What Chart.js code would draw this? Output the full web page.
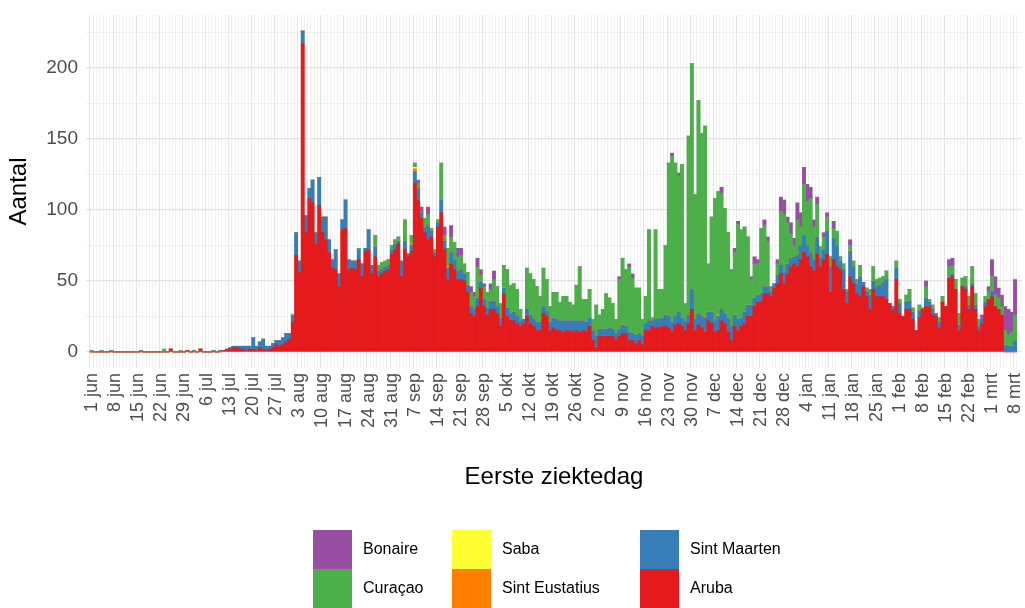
<!DOCTYPE html>
<html>
<head>
<meta charset="utf-8">
<script src="https://cdn.jsdelivr.net/npm/chart.js@4.4.1/dist/chart.umd.min.js"></script>
<style>
  html, body { margin: 0; padding: 0; background: #fff; }
</style>
</head>
<body>
<canvas id="grafiek" width="1025" height="608"></canvas>
<script>
// weekly tick labels, one per 7 days starting 1 jun
const weekLabels = [
  '1 jun', '8 jun', '15 jun', '22 jun', '29 jun', '6 jul', '13 jul', '20 jul', '27 jul',
  '3 aug', '10 aug', '17 aug', '24 aug', '31 aug', '7 sep', '14 sep', '21 sep', '28 sep',
  '5 okt', '12 okt', '19 okt', '26 okt', '2 nov', '9 nov', '16 nov', '23 nov', '30 nov',
  '7 dec', '14 dec', '21 dec', '28 dec', '4 jan', '11 jan', '18 jan', '25 jan',
  '1 feb', '8 feb', '15 feb', '22 feb', '1 mrt', '8 mrt'
];

// cases per day (1 jun .. 8 mrt), one row per week
const aruba = [
  0,0,0,0,0,0,0,  0,0,0,0,0,0,0,  0,0,0,0,0,0,0,  0,0,0,2,0,0,0,
  0,1,0,0,0,2,0,  0,0,0,0,0,1,1,  2,3,3,2,2,1,2,  2,1,3,2,1,2,3,
  5,4,5,7,9,21,68,  56,217,84,108,105,76,103,  84,79,70,59,58,46,86,  87,58,59,58,65,53,71,
  72,55,67,53,55,57,58,  69,72,76,53,72,67,71,  119,107,94,84,79,81,67,  88,98,72,51,62,58,51,
  51,50,42,27,25,32,45,  32,26,30,30,27,18,41,  25,22,22,20,18,20,25,  20,18,15,15,27,25,15,
  17,15,15,14,15,15,14,  15,14,15,14,18,8,3,  11,11,11,11,11,8,11,  13,13,8,8,6,8,5,
  15,15,18,17,17,18,18,  17,14,19,20,18,15,20,  30,15,19,17,14,22,20,  14,15,22,20,14,8,18,
  15,18,20,25,25,32,35,  35,41,41,39,45,48,55,  48,55,60,62,60,65,70,  67,60,57,69,60,65,69,
  42,65,60,58,44,34,53,  48,41,39,46,39,30,44,  39,39,39,37,34,29,51,  27,25,30,30,23,15,24,
  30,32,32,26,25,17,35,  32,52,53,44,15,46,44,  30,46,30,15,20,32,37,  39,32,30,26,0,0,0,
  0
];
const sintMaarten = [
  0,0,0,0,0,0,1,  0,0,0,0,0,0,0,  0,1,0,0,0,0,0,  0,0,0,0,0,0,0,
  0,0,0,1,0,0,0,  0,0,1,0,1,0,1,  1,1,1,2,2,3,2,  8,3,4,7,3,2,3,
  3,4,5,6,4,5,16,  8,9,12,7,16,8,20,  11,16,9,6,14,9,7,  20,7,5,6,7,9,2,
  14,6,7,4,3,3,3,  3,4,2,11,6,2,4,  8,8,4,4,10,4,3,  3,9,6,8,8,7,6,
  7,5,5,5,5,6,4,  5,5,6,6,5,6,4,  6,5,6,5,4,3,5,  6,5,6,6,5,4,6,
  7,8,7,8,7,7,8,  7,8,7,7,6,7,8,  5,5,5,6,5,5,5,  6,5,6,5,6,5,6,
  5,7,4,6,6,6,8,  8,7,6,8,6,7,6,  14,8,8,8,10,6,8,  8,10,8,7,10,10,8,
  8,6,8,8,8,6,5,  6,5,5,4,3,6,6,  8,7,6,5,8,10,12,  8,10,8,12,6,7,16,
  18,15,15,6,14,8,18,  12,7,14,3,4,10,6,  7,8,10,14,0,3,8,  7,0,5,6,5,0,5,
  0,6,3,4,2,4,0,  0,0,2,0,4,0,2,  3,2,3,3,3,3,0,  4,0,0,0,5,4,4,
  8
];
const curacao = [
  1,0,0,1,0,0,0,  0,0,0,0,0,0,0,  0,0,0,0,0,0,0,  0,2,0,0,0,0,1,
  0,0,0,0,0,0,0,  0,0,0,0,0,0,0,  0,0,0,0,0,0,0,  0,0,0,0,0,0,0,
  0,0,0,0,0,0,0,  0,0,0,0,0,0,0,  0,0,0,0,0,0,0,  0,0,0,0,1,0,0,
  0,0,8,4,5,4,4,  3,3,3,0,15,0,6,  3,4,0,6,8,2,2,  2,26,4,13,11,12,10,
  10,7,9,10,9,22,5,  9,11,8,15,14,10,16,  27,20,20,19,8,0,29,  29,28,25,18,27,22,11,
  18,19,13,17,17,13,11,  25,38,15,16,20,8,22,  10,14,25,21,18,10,35,  47,40,46,39,33,32,12,
  19,64,2,63,21,20,49,  108,117,108,96,108,12,126,  159,88,150,129,134,34,67,  86,87,82,74,60,40,44,
  67,62,60,48,18,24,22,  46,43,32,3,0,8,38,  41,29,17,8,25,13,36,  31,38,23,23,8,9,10,
  7,7,10,3,4,2,4,  4,3,8,0,2,4,10,  5,5,4,6,0,0,5,  3,0,5,8,3,0,4,
  1,8,2,3,0,3,4,  0,8,6,7,8,6,7,  6,12,8,5,0,4,6,  10,8,8,6,10,8,10,
  18
];
const bonaire = [
  0,0,0,0,0,0,0,  0,0,0,0,0,0,0,  0,0,0,0,0,0,0,  0,0,0,0,0,0,0,
  0,0,0,0,0,0,0,  0,0,0,0,0,0,0,  0,0,0,0,0,0,0,  0,0,0,0,0,0,0,
  0,0,0,0,0,0,0,  0,0,0,0,0,0,0,  0,0,0,0,0,0,0,  0,0,0,0,0,0,0,
  0,0,0,0,0,0,0,  0,0,0,0,0,0,0,  0,2,4,0,5,0,0,  0,0,6,0,8,0,6,
  5,0,0,4,3,6,4,  2,0,4,6,0,0,0,  0,0,0,0,0,0,0,  0,0,0,0,0,0,0,
  0,0,0,0,0,0,0,  0,0,0,0,0,0,0,  0,0,0,0,0,0,2,  0,0,2,3,0,0,0,
  0,0,0,0,0,0,0,  0,2,0,2,0,0,0,  0,0,0,0,0,0,0,  0,0,4,0,0,0,3,
  2,0,0,0,2,5,3,  0,4,3,0,0,3,10,  10,4,8,5,12,10,12,  12,8,5,5,0,3,3,
  0,5,0,0,0,0,4,  0,0,0,0,0,0,0,  0,0,0,0,0,0,0,  0,0,0,0,0,0,0,
  0,4,0,0,0,0,0,  0,5,5,0,0,0,0,  0,0,0,0,3,0,3,  12,13,7,8,17,18,14,
  25
];
const saba = [
  0,0,0,0,0,0,0,  0,0,0,0,0,0,0,  0,0,0,0,0,0,0,  0,0,0,0,0,0,0,
  0,0,0,0,0,0,0,  0,0,0,0,0,0,0,  0,0,0,0,0,0,0,  0,0,0,0,0,0,0,
  0,0,0,0,0,1,0,  0,0,0,0,0,0,0,  0,0,0,0,0,0,0,  0,0,0,0,0,0,0,
  0,0,0,0,0,0,0,  0,0,0,0,0,0,0,  1,0,0,0,0,0,0,  0,0,0,0,0,0,0,
  0,0,0,0,0,0,0,  0,0,0,0,0,0,0,  0,0,0,0,0,0,0,  0,0,0,0,0,0,0,
  0,0,0,0,0,0,0,  0,0,0,0,0,0,0,  0,0,0,0,0,0,0,  0,0,0,0,0,0,0,
  0,0,0,0,0,0,0,  0,0,0,0,0,0,0,  0,0,0,0,0,0,0,  0,0,0,0,0,0,0,
  0,0,0,0,0,0,0,  0,0,0,0,0,0,0,  0,0,0,0,0,0,0,  0,0,0,0,0,0,0,
  0,0,0,0,0,0,0,  0,0,0,0,0,0,0,  0,0,0,0,0,0,0,  0,0,0,0,0,0,0,
  0,0,0,0,0,0,0,  0,0,0,0,0,0,0,  0,0,0,0,0,0,0,  0,0,0,0,0,0,0,
  0
];
const sintEustatius = [
  0,0,0,0,0,0,0,  0,0,0,0,0,0,0,  0,0,0,0,0,0,0,  0,0,0,0,0,0,0,
  0,0,0,0,0,0,0,  0,0,0,0,0,0,0,  0,0,0,0,0,0,0,  0,0,0,0,0,0,0,
  0,0,0,0,0,0,0,  0,0,0,0,0,0,0,  0,0,0,0,0,0,0,  0,0,0,0,0,0,0,
  0,0,0,0,0,0,0,  0,0,0,0,0,0,1,  2,0,0,0,0,0,0,  0,0,0,1,0,0,0,
  0,0,0,0,0,0,0,  0,0,0,0,0,0,0,  0,0,0,0,0,0,0,  0,0,0,0,0,0,0,
  0,0,0,0,0,0,0,  0,0,0,0,0,0,0,  0,0,0,0,0,0,0,  0,0,0,0,0,0,0,
  0,0,0,0,0,0,0,  0,0,0,0,0,0,0,  0,0,0,0,1,0,0,  0,1,0,0,0,0,0,
  0,0,0,0,0,0,0,  0,0,0,0,0,0,0,  0,0,0,0,0,0,0,  0,0,0,0,0,0,0,
  0,0,0,0,0,0,0,  0,0,0,0,0,0,0,  0,0,0,0,0,0,0,  0,0,0,0,0,0,0,
  0,0,0,0,0,0,0,  0,0,0,0,0,0,0,  0,0,0,0,0,0,0,  0,0,0,0,0,0,0,
  0
];

const yTicks = [0, 25, 50, 75, 100, 125, 150, 175, 200, 225];
const legendOrder = ['Bonaire', 'Curaçao', 'Saba', 'Sint Eustatius', 'Sint Maarten', 'Aruba'];

const dagen = aruba.map((_, i) => i);

Chart.defaults.font.family = '"Liberation Sans", Arial, sans-serif';

// ggplot-style legend: 3 columns, 2 rows
const legenda = {
  id: 'legenda',
  afterDraw(chart) {
    const ctx = chart.ctx;
    const colX = [313, 452, 640];
    const rowY = [530, 569];
    ctx.save();
    ctx.font = '16px "Liberation Sans", Arial, sans-serif';
    ctx.textBaseline = 'middle';
    ctx.textAlign = 'left';
    legendOrder.forEach((naam, i) => {
      const ds = chart.data.datasets.find(d => d.label === naam);
      const x = colX[Math.floor(i / 2)];
      const y = rowY[i % 2];
      ctx.fillStyle = ds.backgroundColor;
      ctx.fillRect(x, y, 39, 39);
      ctx.fillStyle = '#000';
      ctx.fillText(naam, x + 50, y + 20);
    });
    ctx.restore();
  }
};

const data = {
  labels: dagen,
  datasets: [
    { label: 'Aruba', data: aruba, backgroundColor: '#E41A1C' },
    { label: 'Sint Maarten', data: sintMaarten, backgroundColor: '#377EB8' },
    { label: 'Sint Eustatius', data: sintEustatius, backgroundColor: '#FF7F00' },
    { label: 'Saba', data: saba, backgroundColor: '#FFFF33' },
    { label: 'Curaçao', data: curacao, backgroundColor: '#4DAF4A' },
    { label: 'Bonaire', data: bonaire, backgroundColor: '#984EA3' }
  ]
};

const config = {
  type: 'bar',
  data: data,
  plugins: [legenda],
  options: {
    responsive: false,
    animation: false,
    devicePixelRatio: 1,
    events: [],
    layout: { padding: { top: 15, right: 3, left: 0, bottom: 108 } },
    datasets: { bar: { barPercentage: 1, categoryPercentage: 1, borderWidth: 0 } },
    plugins: { legend: { display: false }, tooltip: { enabled: false } },
    scales: {
      x: {
        type: 'linear',
        stacked: true,
        min: -1.2,
        max: 281.6,
        afterBuildTicks: (axis) => { axis.ticks = dagen.map(d => ({ value: d })); },
        afterFit: (axis) => {
          axis.height = 132;
          axis.paddingLeft = 0;
          axis.paddingRight = 0;
        },
        ticks: {
          autoSkip: false,
          minRotation: 90,
          maxRotation: 90,
          padding: 5,
          color: '#4d4d4d',
          font: { size: 18 },
          callback: (v) => v % 7 === 0 ? weekLabels[v / 7] : ''
        },
        grid: {
          drawTicks: false,
          color: (c) => c.tick && c.tick.value % 7 === 0 ? '#e3e3e3' : '#efefef',
          lineWidth: (c) => c.tick && c.tick.value % 7 === 0 ? 1.1 : 0.8
        },
        border: { display: false },
        title: {
          display: true,
          text: 'Eerste ziektedag',
          color: '#000',
          font: { size: 24 },
          padding: { top: 0, bottom: 8 }
        }
      },
      y: {
        stacked: true,
        min: -11.3,
        max: 237.3,
        afterBuildTicks: (axis) => { axis.ticks = yTicks.map(v => ({ value: v })); },
        afterFit: (axis) => {
          axis.width = 86;
          axis.paddingTop = 0;
          axis.paddingBottom = 0;
        },
        ticks: {
          padding: 8,
          color: '#4d4d4d',
          font: { size: 19 },
          callback: (v) => v % 50 === 0 ? v : ''
        },
        grid: {
          drawTicks: false,
          color: (c) => c.tick && c.tick.value % 50 === 0 ? '#e3e3e3' : '#eeeeee',
          lineWidth: (c) => c.tick && c.tick.value % 50 === 0 ? 1.2 : 0.8
        },
        border: { display: false },
        title: {
          display: true,
          text: 'Aantal',
          color: '#000',
          font: { size: 24 },
          padding: { top: 5, bottom: 0 }
        }
      }
    }
  }
};

const grafiek = new Chart(document.getElementById('grafiek').getContext('2d'), config);
</script>
</body>
</html>
